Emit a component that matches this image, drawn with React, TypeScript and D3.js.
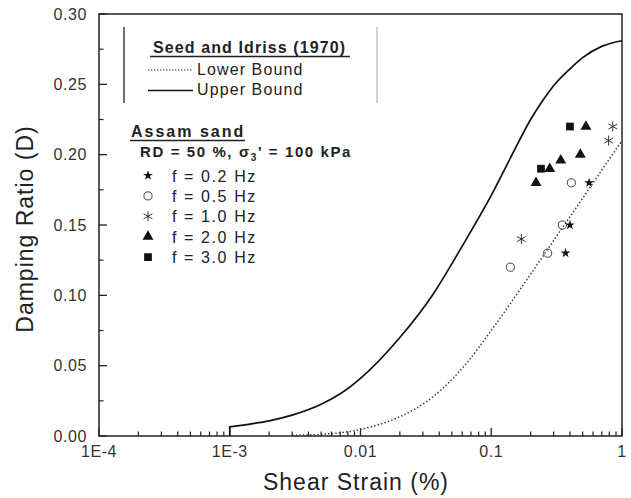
import React from 'react';
import * as d3 from 'd3';

// Seed and Idriss (1970) bounds
const upperX = [0.001, 0.0015, 0.002, 0.003, 0.005, 0.007, 0.01, 0.02, 0.036, 0.06, 0.1, 0.15, 0.2, 0.25, 0.3, 0.4, 0.5, 0.7, 1];
const upperD = [0.0065, 0.0088, 0.0108, 0.0148, 0.0225, 0.030, 0.041, 0.07, 0.101, 0.135, 0.171, 0.203, 0.225, 0.239, 0.249, 0.261, 0.269, 0.277, 0.281];
const lowerX = [0.003, 0.005, 0.008, 0.012, 0.02, 0.036, 0.065, 0.1, 0.2, 0.3, 0.5, 0.7, 1];
const lowerD = [0.0005, 0.0012, 0.003, 0.0065, 0.0137, 0.028, 0.052, 0.075, 0.115, 0.139, 0.169, 0.189, 0.21];

// Assam sand test data
const f02X = [0.37, 0.40, 0.56];
const f02D = [0.13, 0.15, 0.18];
const f05X = [0.14, 0.27, 0.35, 0.41];
const f05D = [0.12, 0.13, 0.15, 0.18];
const f10X = [0.17, 0.79, 0.85];
const f10D = [0.14, 0.21, 0.22];
const f20X = [0.22, 0.28, 0.34, 0.48, 0.53];
const f20D = [0.18, 0.19, 0.196, 0.20, 0.22];
const f30X = [0.24, 0.40];
const f30D = [0.19, 0.22];

const xTicks = [1e-4, 1e-3, 1e-2, 0.1, 1];
const xTickLabels = ['1E-4', '1E-3', '0.01', '0.1', '1'];
const yTicks = [0, 0.05, 0.1, 0.15, 0.2, 0.25, 0.3];
const yTickLabels = ['0.00', '0.05', '0.10', '0.15', '0.20', '0.25', '0.30'];
const legendLabels = ['f = 0.2 Hz', 'f = 0.5 Hz', 'f = 1.0 Hz', 'f = 2.0 Hz', 'f = 3.0 Hz'];

const W = 631, H = 498;
const L = 99, R = 622, T = 14, B = 436;
const FONT = "'Liberation Sans', Arial, Helvetica, sans-serif";

export default function App() {
  const x = d3.scaleLog().domain([1e-4, 1]).range([L, R]);
  const y = d3.scaleLinear().domain([0, 0.3]).range([B, T]);

  const line = d3.line<[number, number]>()
    .x(d => x(d[0]))
    .y(d => y(d[1]))
    .curve(d3.curveMonotoneX);
  const upperPts: [number, number][] = upperX.map((v, i) => [v, upperD[i]]);
  const lowerPts: [number, number][] = lowerX.map((v, i) => [v, lowerD[i]]);
  const upperPath = `M${x(upperX[0])},${y(0)}L` + (line(upperPts) || '').slice(1);
  const lowerPath = line(lowerPts) || '';

  const minorX = x.ticks().filter(t => !xTicks.some(m => Math.abs(m - t) / m < 1e-6));
  const minorY = d3.range(0.025, 0.3, 0.05);

  const sym = (type: any, size: number) => d3.symbol().type(type).size(size)() || '';
  const starP = sym(d3.symbolStar, 30);
  const circP = sym(d3.symbolCircle, 52);
  const astP = sym(d3.symbolAsterisk, 70);
  const triP = sym(d3.symbolTriangle, 52);
  const sqP = sym(d3.symbolSquare, 60);

  const series = [
    { xs: f02X, ds: f02D, p: starP, fill: '#111', stroke: 'none' },
    { xs: f05X, ds: f05D, p: circP, fill: 'none', stroke: '#444' },
    { xs: f10X, ds: f10D, p: astP, fill: 'none', stroke: '#333' },
    { xs: f20X, ds: f20D, p: triP, fill: '#111', stroke: 'none' },
    { xs: f30X, ds: f30D, p: sqP, fill: '#111', stroke: 'none' },
  ];

  const legRowY = (i: number) => 175.5 + i * 20.4;

  return (
    <svg width={W} height={H} style={{ position: 'absolute', left: 0, top: 0, background: '#fff' }}
      fontFamily={FONT}>
      <rect x={0} y={0} width={W} height={H} fill="#fff" />
      {/* frame */}
      <rect x={L} y={T} width={R - L} height={B - T} fill="none" stroke="#222" strokeWidth={1.5} />

      {/* y ticks */}
      {yTicks.map((t, i) => (
        <g key={'yt' + i}>
          <line x1={L} x2={L + 8} y1={y(t)} y2={y(t)} stroke="#222" strokeWidth={1.3} />
          <text x={87} y={y(t) + 5.5} textAnchor="end" fontSize={16} fill="#333" letterSpacing={0.6}>{yTickLabels[i]}</text>
        </g>
      ))}
      {minorY.map((t, i) => (
        <line key={'ym' + i} x1={L} x2={L + 4.5} y1={y(t)} y2={y(t)} stroke="#222" strokeWidth={1.2} />
      ))}

      {/* x ticks */}
      {xTicks.map((t, i) => (
        <g key={'xt' + i}>
          <line x1={x(t)} x2={x(t)} y1={B} y2={B - 8} stroke="#222" strokeWidth={1.3} />
          <text x={x(t)} y={457} textAnchor="middle" fontSize={16} fill="#333" letterSpacing={0.6}>{xTickLabels[i]}</text>
        </g>
      ))}
      {minorX.map((t, i) => (
        <line key={'xm' + i} x1={x(t)} x2={x(t)} y1={B} y2={B - 4.5} stroke="#222" strokeWidth={1.2} />
      ))}

      {/* axis titles */}
      <text x={356} y={490} textAnchor="middle" fontSize={23} fill="#222" letterSpacing={1}>Shear Strain (%)</text>
      <text transform={`translate(33,229) rotate(-90)`} textAnchor="middle" fontSize={23} fill="#222" letterSpacing={1}>Damping Ratio (D)</text>

      {/* bounds */}
      <path d={upperPath} fill="none" stroke="#111" strokeWidth={1.7} />
      <path d={lowerPath} fill="none" stroke="#333" strokeWidth={1.5} strokeDasharray="1.4,2.2" />

      {/* data */}
      {series.map((s, si) => s.xs.map((v, i) => (
        <path key={`p${si}-${i}`} d={s.p} transform={`translate(${x(v)},${y(s.ds[i])})`}
          fill={s.fill} stroke={s.stroke} strokeWidth={1} />
      )))}

      {/* legend: Seed and Idriss */}
      <line x1={124} x2={124} y1={27} y2={103} stroke="#222" strokeWidth={1.3} />
      <line x1={377} x2={377} y1={27} y2={103} stroke="#aaa" strokeWidth={1} />
      <text x={153} y={53} fontSize={16} fontWeight="bold" fill="#222" letterSpacing={1.1}>Seed and Idriss (1970)</text>
      <line x1={150} x2={350} y1={56.5} y2={56.5} stroke="#222" strokeWidth={1.5} />
      <line x1={148} x2={192} y1={70} y2={70} stroke="#333" strokeWidth={1.2} strokeDasharray="1.4,1.6" />
      <text x={197} y={75} fontSize={16} fill="#222" letterSpacing={1.1}>Lower Bound</text>
      <line x1={148} x2={193} y1={90.5} y2={90.5} stroke="#111" strokeWidth={1.5} />
      <text x={197} y={95} fontSize={16} fill="#222" letterSpacing={1.1}>Upper Bound</text>

      {/* legend: Assam sand */}
      <text x={131} y={137} fontSize={16} fontWeight="bold" fill="#222" letterSpacing={2}>Assam sand</text>
      <line x1={130} x2={245} y1={140.5} y2={140.5} stroke="#222" strokeWidth={1.5} />
      <text x={140} y={157} fontSize={15} fontWeight="bold" fill="#222" letterSpacing={1.6}>
        RD = 50 %, σ<tspan dy={4} fontSize={10}>3</tspan><tspan dy={-4}>' = 100 kPa</tspan>
      </text>
      {series.map((s, i) => (
        <g key={'lg' + i}>
          <path d={s.p} transform={`translate(148,${legRowY(i)})`} fill={s.fill} stroke={s.stroke} strokeWidth={1} />
          <text x={172} y={legRowY(i) + 6} fontSize={16} fill="#222" letterSpacing={1.6}>{legendLabels[i]}</text>
        </g>
      ))}
    </svg>
  );
}
